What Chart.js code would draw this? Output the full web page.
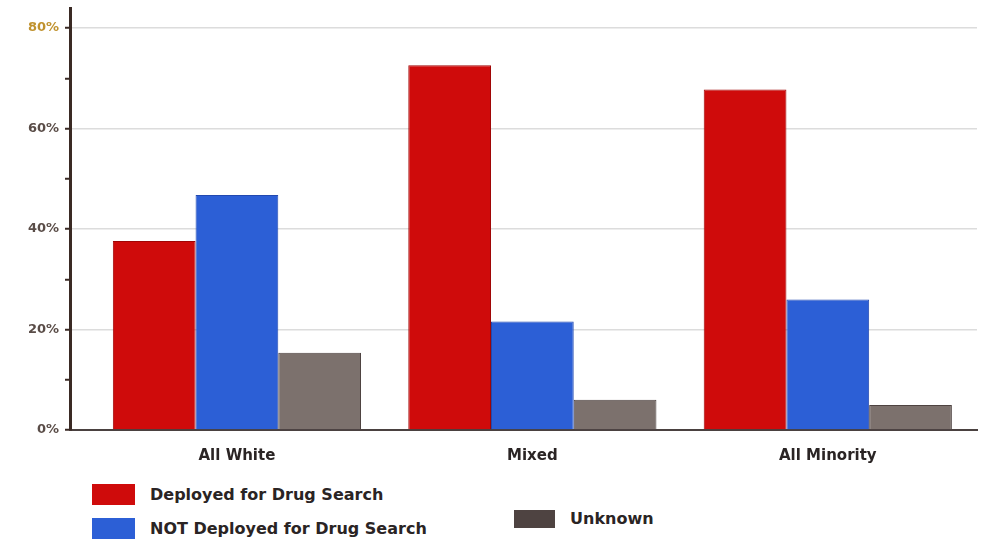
<!DOCTYPE html>
<html lang="en">
<head>
  <meta charset="UTF-8">
  <title>Drug Search Deployment by Team Composition</title>
  <script src="https://cdn.jsdelivr.net/npm/chart.js"></script>
  <style>
    body {
      margin: 0;
      background: #fff;
      font-family: "DejaVu Sans", Arial, sans-serif;
    }
    #wrap {
      position: relative;
      width: 984px;
      height: 543px;
    }
    #box {
      position: absolute;
      left: 0;
      top: 0;
      width: 984px;
      height: 474px;
    }
    .legend-item {
      position: absolute;
      display: flex;
      align-items: center;
      font-size: 16px;
      font-weight: 700;
      color: #2a2424;
      white-space: nowrap;
    }
    .legend-item span.sw {
      display: inline-block;
      width: 43px;
      height: 21px;
      margin-right: 15px;
    }
  </style>
</head>
<body>
<div id="wrap">
  <div id="box"><canvas id="bars"></canvas></div>
  <div id="legend"></div>
</div>

<script>
  // categories and series
  const groups = ['All White', 'Mixed', 'All Minority'];
  const deployed = [37.6, 72.6, 67.8];
  const notDeployed = [46.8, 21.6, 26.0];
  const unknown = [15.4, 6.0, 5.0];
  const seriesNames = ['Deployed for Drug Search', 'NOT Deployed for Drug Search', 'Unknown'];
  const yTicks = [0, 10, 20, 30, 40, 50, 60, 70, 80];

  const colors = ['#cf0b0b', '#2c5fd6', '#7c716d'];
  const edges = ['#a00606', '#2249b0', '#4e4341'];

  const ctx = document.getElementById('bars').getContext('2d');
  const chart = new Chart(ctx, {
    type: 'bar',
    data: {
      labels: groups,
      datasets: [deployed, notDeployed, unknown].map((vals, i) => ({
        label: seriesNames[i],
        data: vals,
        backgroundColor: colors[i],
        borderColor: edges[i],
        borderWidth: 1,
        barPercentage: 1,
        categoryPercentage: 0.84
      }))
    },
    options: {
      responsive: true,
      maintainAspectRatio: false,
      animation: false,
      layout: { padding: { top: 8, left: 8, right: 7, bottom: 0 } },
      plugins: {
        legend: { display: false },
        tooltip: { enabled: false }
      },
      scales: {
        x: {
          // leave a little room between the axis line and the first group
          afterBuildTicks: s => { s._startValue = -0.565; s._valueRange = 3.07; },
          grid: { display: false },
          border: { color: '#4a4140', width: 2 },
          ticks: {
            padding: 9,
            color: '#2a2424',
            font: { family: 'DejaVu Sans', size: 15, weight: 'bold' }
          }
        },
        y: {
          min: 0,
          max: 84,
          afterBuildTicks: s => { s.ticks = yTicks.map(v => ({ value: v })); },
          afterFit: s => { s.width = 62; s.paddingTop = 0; s.paddingBottom = 0; },
          border: { color: '#3a2a24', width: 3 },
          grid: {
            color: c => (c.tick && c.tick.value % 20 === 0 && c.tick.value > 0) ? '#dcdcdc' : 'rgba(0,0,0,0)',
            lineWidth: 1.5,
            tickColor: '#3a2a24',
            tickLength: 5,
            tickWidth: 2
          },
          ticks: {
            padding: 6,
            color: c => c.tick.value === 80 ? '#c0922e' : '#5a4d48',
            font: { family: 'DejaVu Sans', size: 13, weight: 'bold' },
            callback: v => v % 20 === 0 ? v + '%' : ''
          }
        }
      }
    }
  });

  // legend laid out in two rows under the chart
  const legendSpots = [
    { left: 92, top: 484 },
    { left: 92, top: 518 },
    { left: 514, top: 509 }
  ];
  const legend = document.getElementById('legend');
  chart.data.datasets.forEach((ds, i) => {
    const item = document.createElement('div');
    item.className = 'legend-item';
    item.style.left = legendSpots[i].left + 'px';
    item.style.top = legendSpots[i].top + 'px';
    const sw = document.createElement('span');
    sw.className = 'sw';
    sw.style.background = i === 2 ? edges[i] : ds.backgroundColor;
    if (i === 2) { sw.style.width = '41px'; sw.style.height = '18px'; }
    item.appendChild(sw);
    item.appendChild(document.createTextNode(ds.label));
    legend.appendChild(item);
  });
</script>
</body>
</html>
